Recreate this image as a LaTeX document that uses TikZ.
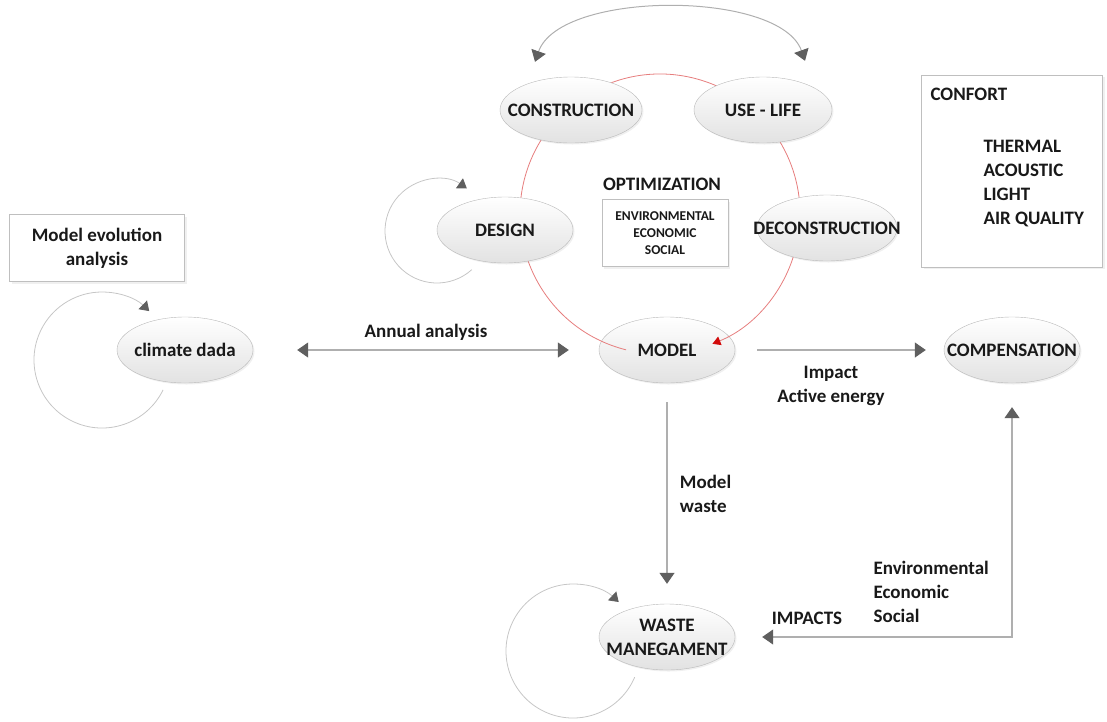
\documentclass[tikz,border=0pt]{standalone}
\usepackage{fontspec}
\setmainfont{Carlito}
\usetikzlibrary{shapes.geometric, arrows.meta, calc, positioning, shadows}
\definecolor{edgegray}{RGB}{175,175,175}
\definecolor{tipgray}{RGB}{95,95,95}
\definecolor{ringred}{RGB}{230,125,125}
\definecolor{tipred}{RGB}{210,10,10}
\definecolor{ellgray}{RGB}{226,226,226}
\tikzstyle{stage} = [ellipse, minimum width=136pt, minimum height=66pt, inner sep=0pt, align=center, draw=gray!55, top color=white, bottom color=ellgray, drop shadow={opacity=0.12, shadow xshift=1.5pt, shadow yshift=-1.5pt}]
\tikzstyle{panel} = [rectangle, draw=gray!50, fill=white, drop shadow={opacity=0.12, shadow xshift=2pt, shadow yshift=-2pt}]
\tikzstyle{arrow} = [draw=edgegray, line width=1.2pt, -{Triangle[width=15pt,length=11pt,color=tipgray]}]
\tikzstyle{twoway} = [draw=edgegray, line width=1.2pt, {Triangle[width=15pt,length=11pt,color=tipgray]}-{Triangle[width=15pt,length=11pt,color=tipgray]}]
\tikzstyle{loopy} = [draw=gray!45, line width=0.8pt, -{Triangle[width=12pt,length=9pt,color=tipgray]}]
\tikzstyle{ring} = [draw=ringred, line width=0.8pt, -{Triangle[width=9pt,length=8pt,color=tipred]}]

\begin{document}
\begin{tikzpicture}[x=1pt, y=-1pt, font=\fontsize{19}{24}\selectfont\bfseries, text=black!90]
\useasboundingbox (0,0) rectangle (1107,721);

\node (model) [stage] at (667,350) {\makebox[0pt]{MODEL}};
% life cycle ring
\draw [ring] ($(model.center)+(-7,-136)+(104:140)$) arc[start angle=104, end angle=428, radius=140];

\node (construction) [stage, minimum width=142pt] at (571,110) {\makebox[0pt]{CONSTRUCTION}};
\node (uselife) [stage, minimum width=138pt] at (763,110) {\makebox[0pt]{USE - LIFE}};
\node (design) [stage] at (505,230) {\makebox[0pt]{DESIGN}};
\node (deconstruction) [stage, minimum width=140pt] at (827,228) {\makebox[0pt]{DECONSTRUCTION}};
\node (compensation) [stage] at (1012,350) {\makebox[0pt]{COMPENSATION}};
\node (climate) [stage] at (185,350) {\makebox[0pt]{climate dada}};
\node (waste) [stage] at (667,637) {\makebox[0pt]{WASTE}\\\makebox[0pt]{MANEGAMENT}};

\node (evolution) [panel, minimum width=175pt, minimum height=67pt, align=center] at (97,248) {Model evolution\\analysis};
\node (optimization) at (662,184) {OPTIMIZATION};
\node (criteria) [panel, minimum width=126pt, minimum height=67pt, align=center, font=\fontsize{13.5}{17}\selectfont\bfseries] at (665,233) {ENVIRONMENTAL\\ECONOMIC\\SOCIAL};
\node (confort) [panel, minimum width=181pt, minimum height=192pt] at (1012,171) {};
\node (confortlbl) [anchor=west] at (927,94) {CONFORT};
\node (aspects) [anchor=north west, align=left] at (980,137) {THERMAL\\ACOUSTIC\\LIGHT\\AIR QUALITY};

\draw [twoway, line width=1pt] ($(construction.north)+(-36,-15)$) .. controls (560,-10) and (780,-10) .. ($(uselife.north)+(42,-16)$);

\draw [loopy] ($(design.center)+(-68,1)+(48:52)$) arc[start angle=48, end angle=305, radius=52];
\draw [loopy] ($(climate.center)+(-83,10)+(26:68)$) arc[start angle=26, end angle=314, radius=68];
\draw [loopy] ($(waste.center)+(-94,14)+(23:67)$) arc[start angle=23, end angle=313, radius=67];

\draw [twoway, shorten <=44pt, shorten >=30pt] (climate.east) -- node[above=6pt] {Annual analysis} (model.west);
\draw [arrow, shorten <=22pt, shorten >=18pt] (model.east) -- (compensation.west);
\node (impact) [align=center] at (831,386) {Impact\\Active energy};
\draw [arrow, shorten <=19pt, shorten >=20pt] (model.south) -- node[right=9pt, align=left] {Model\\waste} (waste.north);
\draw [twoway, shorten <=24pt, shorten >=27pt] (compensation.south) |- (waste.east);
\node (impacts) at (807,618) {IMPACTS};
\node (effects) [anchor=west, align=left] at (870,592) {Environmental\\Economic\\Social};

\end{tikzpicture}
\end{document}
